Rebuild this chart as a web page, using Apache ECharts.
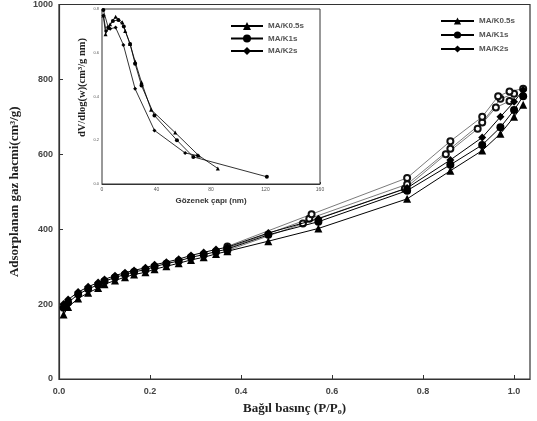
<!DOCTYPE html>
<html lang="tr">
<head>
<meta charset="UTF-8">
<title>Adsorpsiyon</title>
<script src="https://cdn.jsdelivr.net/npm/echarts@6/dist/echarts.min.js"></script>
<style>
  html, body { margin: 0; padding: 0; background: #fff; }
  #chart { width: 537px; height: 421px; }
</style>
</head>
<body>
<div id="chart"></div>
<script>
// izoterm verisi (adsorpsiyon: dolu, desorpsiyon: bos)
var names = ['MA/K0.5s', 'MA/K1s', 'MA/K2s'];
var symbols = ['triangle', 'circle', 'diamond'];

var pressureAds = [0.01, 0.02, 0.042, 0.064, 0.086, 0.10, 0.123, 0.145, 0.165, 0.19, 0.21, 0.236, 0.263, 0.29, 0.318, 0.345, 0.37, 0.46, 0.57, 0.765, 0.86, 0.93, 0.97, 1.0, 1.02];
var adsK05 = [172, 192, 215, 230, 243, 253, 263, 272, 279, 285, 293, 301, 309, 318, 325, 334, 341, 368, 402, 481, 556, 610, 655, 700, 732];
var adsK1 = [190, 204, 226, 240, 252, 261, 271, 279, 286, 292, 300, 308, 315, 325, 332, 340, 347, 385, 420, 503, 572, 625, 672, 718, 755];
var adsK2 = [200, 212, 232, 246, 258, 266, 276, 284, 290, 297, 305, 312, 320, 330, 338, 346, 352, 390, 428, 510, 585, 645, 700, 740, 772];

var pressureDesK05 = [0.99, 0.96, 0.92, 0.85, 0.76, 0.536, 0.37];
var desK05 = [742, 725, 668, 600, 508, 415, 343];
var pressureDesK1 = [1.0, 0.97, 0.93, 0.86, 0.765, 0.55, 0.37];
var desK1 = [762, 748, 685, 615, 520, 428, 349];
var pressureDesK2 = [1.02, 0.99, 0.965, 0.93, 0.86, 0.765, 0.555, 0.37];
var desK2 = [775, 768, 755, 700, 635, 537, 440, 354];

// gozenek boyut dagilimi (ic grafik)
var poreK05 = [1, 2.6, 5.9, 10, 14.9, 17, 20.6, 24.3, 29, 36, 53.7, 71, 85];
var dvK05 = [0.77, 0.685, 0.73, 0.765, 0.74, 0.70, 0.64, 0.56, 0.465, 0.34, 0.235, 0.13, 0.071];
var poreK1 = [1, 4.6, 8, 12, 16, 20.6, 24.3, 29, 38.5, 55, 67, 121];
var dvK1 = [0.795, 0.715, 0.745, 0.75, 0.72, 0.64, 0.55, 0.45, 0.313, 0.20, 0.124, 0.033];
var poreK2 = [1, 3, 6, 10, 15.7, 24.3, 38.5, 61, 70];
var dvK2 = [0.77, 0.70, 0.71, 0.715, 0.636, 0.435, 0.245, 0.142, 0.13];

function pairs(xs, ys) {
  var res = [];
  for (var i = 0; i < xs.length; i++) res.push([xs[i], ys[i]]);
  return res;
}

var adsData = [adsK05, adsK1, adsK2];
var desX = [pressureDesK05, pressureDesK1, pressureDesK2];
var desY = [desK05, desK1, desK2];
var poreX = [poreK05, poreK1, poreK2];
var poreY = [dvK05, dvK1, dvK2];

var series = [];
for (var i = 0; i < 3; i++) {
  series.push({
    name: names[i], type: 'line', xAxisIndex: 0, yAxisIndex: 0,
    data: pairs(pressureAds, adsData[i]),
    symbol: symbols[i], symbolSize: 8,
    itemStyle: { color: '#000' },
    lineStyle: { color: '#000', width: 1 },
    z: 3
  });
}
for (var i = 0; i < 3; i++) {
  series.push({
    name: names[i] + ' des', type: 'line', xAxisIndex: 0, yAxisIndex: 0,
    data: pairs(desX[i], desY[i]),
    symbol: 'emptyCircle', symbolSize: 6,
    itemStyle: { color: '#111', borderWidth: 0.7 },
    lineStyle: { color: '#222', width: 0.6 },
    z: 2
  });
}
for (var i = 0; i < 3; i++) {
  series.push({
    name: names[i], type: 'line', xAxisIndex: 1, yAxisIndex: 1,
    data: pairs(poreX[i], poreY[i]),
    symbol: symbols[i], symbolSize: 4,
    itemStyle: { color: '#000' },
    lineStyle: { color: '#000', width: 0.8 },
    z: 5
  });
}

var tickFont = { fontFamily: 'Liberation Sans', fontWeight: 'bold', color: '#444' };

var option = {
  animation: false,
  backgroundColor: '#fff',
  grid: [
    { left: 58, right: 7, top: 4, bottom: 40, show: true, borderColor: '#333', borderWidth: 1.2 },
    { left: 102, top: 9, width: 218, height: 175, show: true, backgroundColor: '#fff', borderColor: '#333', borderWidth: 1, z: 4 }
  ],
  legend: [
    {
      data: names, orient: 'vertical', left: 435, top: 12,
      itemWidth: 33, itemHeight: 9, itemGap: 6,
      textStyle: { fontFamily: 'Liberation Sans', fontWeight: 'bold', fontSize: 8, color: '#555' }
    },
    {
      data: names, orient: 'vertical', left: 225, top: 17,
      itemWidth: 32, itemHeight: 10, itemGap: 4.5, z: 6,
      textStyle: { fontFamily: 'Liberation Sans', fontWeight: 'bold', fontSize: 8, color: '#555' }
    }
  ],
  xAxis: [
    {
      gridIndex: 0, type: 'value', min: 0, max: 1.035, interval: 0.2,
      name: 'Bağıl basınç (P/P{s|o})', nameLocation: 'middle', nameGap: 23,
      nameTextStyle: {
        fontFamily: 'Liberation Serif', fontWeight: 'bold', fontSize: 13, color: '#222',
        rich: { s: { fontFamily: 'Liberation Serif', fontWeight: 'bold', fontSize: 8, color: '#222', padding: [6, 0, 0, 0] } }
      },
      axisLine: { lineStyle: { color: '#333', width: 1.2 } },
      axisTick: { inside: true, length: 4, lineStyle: { color: '#333' } },
      axisLabel: Object.assign({ fontSize: 9, margin: 8, showMaxLabel: false,
        formatter: function (v) { return v.toFixed(1); } }, tickFont),
      splitLine: { show: false }
    },
    {
      gridIndex: 1, type: 'value', min: 0, max: 160, interval: 40,
      name: 'Gözenek çapı (nm)', nameLocation: 'middle', nameGap: 13,
      nameTextStyle: { fontFamily: 'Liberation Sans', fontWeight: 'bold', fontSize: 8, color: '#333' },
      axisLine: { lineStyle: { color: '#333', width: 1 } },
      axisTick: { inside: true, length: 2, lineStyle: { color: '#333' } },
      axisLabel: { fontSize: 5, margin: 3, color: '#555' },
      splitLine: { show: false }
    }
  ],
  yAxis: [
    {
      gridIndex: 0, type: 'value', min: 0, max: 1000, interval: 200,
      name: 'Adsorplanan gaz hacmi(cm³/g)', nameLocation: 'middle', nameGap: 38,
      nameTextStyle: { fontFamily: 'Liberation Serif', fontWeight: 'bold', fontSize: 13, color: '#222' },
      axisLine: { lineStyle: { color: '#333', width: 1.2 } },
      axisTick: { inside: true, length: 4, lineStyle: { color: '#333' } },
      axisLabel: Object.assign({ fontSize: 9, margin: 6,
        formatter: function (v) { return String(v); } }, tickFont),
      splitLine: { show: false }
    },
    {
      gridIndex: 1, type: 'value', min: 0, max: 0.8, interval: 0.2,
      name: 'dV/dlog(w)(cm³/g nm)', nameLocation: 'middle', nameGap: 14,
      nameTextStyle: { fontFamily: 'Liberation Serif', fontWeight: 'bold', fontSize: 10.5, color: '#222',
        padding: [0, 0, 0, 18] },
      axisLine: { lineStyle: { color: '#333', width: 1 } },
      axisTick: { inside: true, length: 2, lineStyle: { color: '#333' } },
      axisLabel: { fontSize: 4, margin: 3, color: '#555', formatter: function (v) { return v.toFixed(1); } },
      splitLine: { show: false }
    }
  ],
  series: series
};

var chart = echarts.init(document.getElementById('chart'));
chart.setOption(option);
</script>
</body>
</html>
